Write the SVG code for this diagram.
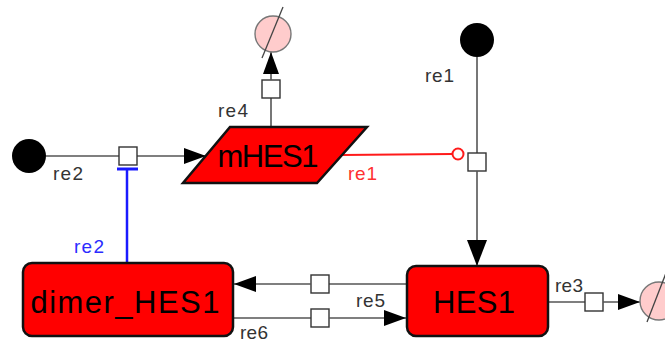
<svg xmlns="http://www.w3.org/2000/svg" width="665" height="342" viewBox="0 0 665 342">
  <style>
    .species { fill: #ff0000; stroke: #111; stroke-width: 2.5; }
    .name { font-family: "Liberation Sans", Arial, sans-serif; font-size: 31px; fill: #000; text-anchor: middle; }
    .lbl { font-family: "Liberation Sans", Arial, sans-serif; font-size: 19px; fill: #333; }
    .line { fill: none; stroke: #555; stroke-width: 1.6; }
    .proc { fill: #fff; stroke: #333; stroke-width: 1.4; }
    .source { fill: #000; }
    .sink { fill: #ffcccc; stroke: #777; stroke-width: 1.4; }
    .slash { stroke: #444; stroke-width: 1.3; }
  </style>
  <defs>
    <marker id="arrow" markerUnits="userSpaceOnUse" markerWidth="24" markerHeight="18" refX="22" refY="8" orient="auto">
      <path d="M0,0 L22,8 L0,16 Z" fill="#000"/>
    </marker>
    <marker id="arrowBig" markerUnits="userSpaceOnUse" markerWidth="28" markerHeight="22" refX="26" refY="10" orient="auto">
      <path d="M0,0 L26,10 L0,20 Z" fill="#000"/>
    </marker>
  </defs>

  <!-- connectors -->
  <g id="connectors">
    <!-- re2: source -> mHES1 -->
    <line class="line" x1="46" y1="156" x2="119" y2="156"/>
    <line class="line" x1="137" y1="156" x2="206" y2="156" marker-end="url(#arrow)"/>
    <rect class="proc" x="119" y="147" width="18" height="18"/>
    <text class="lbl" x="53" y="180" textLength="30">re2</text>
    <!-- re2 inhibition by dimer_HES1 -->
    <line x1="127" y1="263" x2="127" y2="169" stroke="#1a1aff" stroke-width="2.5"/>
    <line x1="117" y1="169" x2="138" y2="169" stroke="#1a1aff" stroke-width="3"/>
    <text class="lbl" x="74" y="253" textLength="30" style="fill:#2b2bff">re2</text>

    <!-- re4: mHES1 degradation -->
    <line class="line" x1="271" y1="127" x2="271" y2="98"/>
    <rect class="proc" x="262" y="80" width="18" height="18"/>
    <line class="line" x1="271" y1="80" x2="271" y2="52" marker-end="url(#arrow)"/>
    <text class="lbl" x="218" y="117" textLength="30">re4</text>

    <!-- re1: source -> HES1, modulated by mHES1 -->
    <line class="line" x1="477" y1="57" x2="477" y2="153"/>
    <rect class="proc" x="468" y="153" width="18" height="18"/>
    <line class="line" x1="477" y1="171" x2="477" y2="266" marker-end="url(#arrowBig)"/>
    <text class="lbl" x="425" y="82" textLength="29">re1</text>
    <line x1="342" y1="155" x2="452" y2="154" stroke="#ff1a1a" stroke-width="2"/>
    <circle cx="458" cy="154" r="5.5" fill="#fff" stroke="#ff1a1a" stroke-width="2"/>
    <text class="lbl" x="348" y="180" textLength="29" style="fill:#ff3030">re1</text>

    <!-- re6: HES1 -> dimer_HES1 -->
    <line class="line" x1="407" y1="284" x2="329" y2="284"/>
    <rect class="proc" x="311" y="275" width="18" height="18"/>
    <line class="line" x1="311" y1="284" x2="234" y2="284" marker-end="url(#arrow)"/>
    <!-- re5: dimer_HES1 -> HES1 -->
    <line class="line" x1="233" y1="318" x2="311" y2="318"/>
    <rect class="proc" x="311" y="309" width="18" height="18"/>
    <line class="line" x1="329" y1="318" x2="406" y2="318" marker-end="url(#arrow)"/>
    <text class="lbl" x="356" y="307" textLength="29">re5</text>
    <text class="lbl" x="240" y="339" textLength="28">re6</text>

    <!-- re3: HES1 degradation -->
    <line class="line" x1="548" y1="302" x2="585" y2="302"/>
    <rect class="proc" x="585" y="293" width="18" height="18"/>
    <line class="line" x1="603" y1="302" x2="640" y2="302" marker-end="url(#arrow)"/>
    <text class="lbl" x="555" y="292" textLength="28">re3</text>
  </g>

  <!-- sources -->
  <g id="source_re2"><circle class="source" cx="29" cy="156" r="17"/></g>
  <g id="source_re1"><circle class="source" cx="477" cy="40" r="17"/></g>

  <!-- sinks -->
  <g id="sink_re4">
    <circle class="sink" cx="273" cy="34" r="18"/>
    <line class="slash" x1="283" y1="7" x2="262" y2="58"/>
  </g>
  <g id="sink_re3">
    <circle class="sink" cx="659" cy="301" r="19"/>
    <line class="slash" x1="666" y1="273" x2="647" y2="322"/>
  </g>

  <!-- species -->
  <g id="mHES1">
    <polygon class="species" points="230,127 367,127 317,183 183,183" stroke-width="3"/>
    <text class="name" x="268" y="167" textLength="101">mHES1</text>
  </g>
  <g id="dimer_HES1">
    <rect class="species" x="23" y="263" width="210" height="73" rx="9"/>
    <text class="name" x="125" y="313" textLength="189">dimer_HES1</text>
  </g>
  <g id="HES1">
    <rect class="species" x="407" y="266" width="141" height="70" rx="9"/>
    <text class="name" x="474" y="313" textLength="82">HES1</text>
  </g>
</svg>
